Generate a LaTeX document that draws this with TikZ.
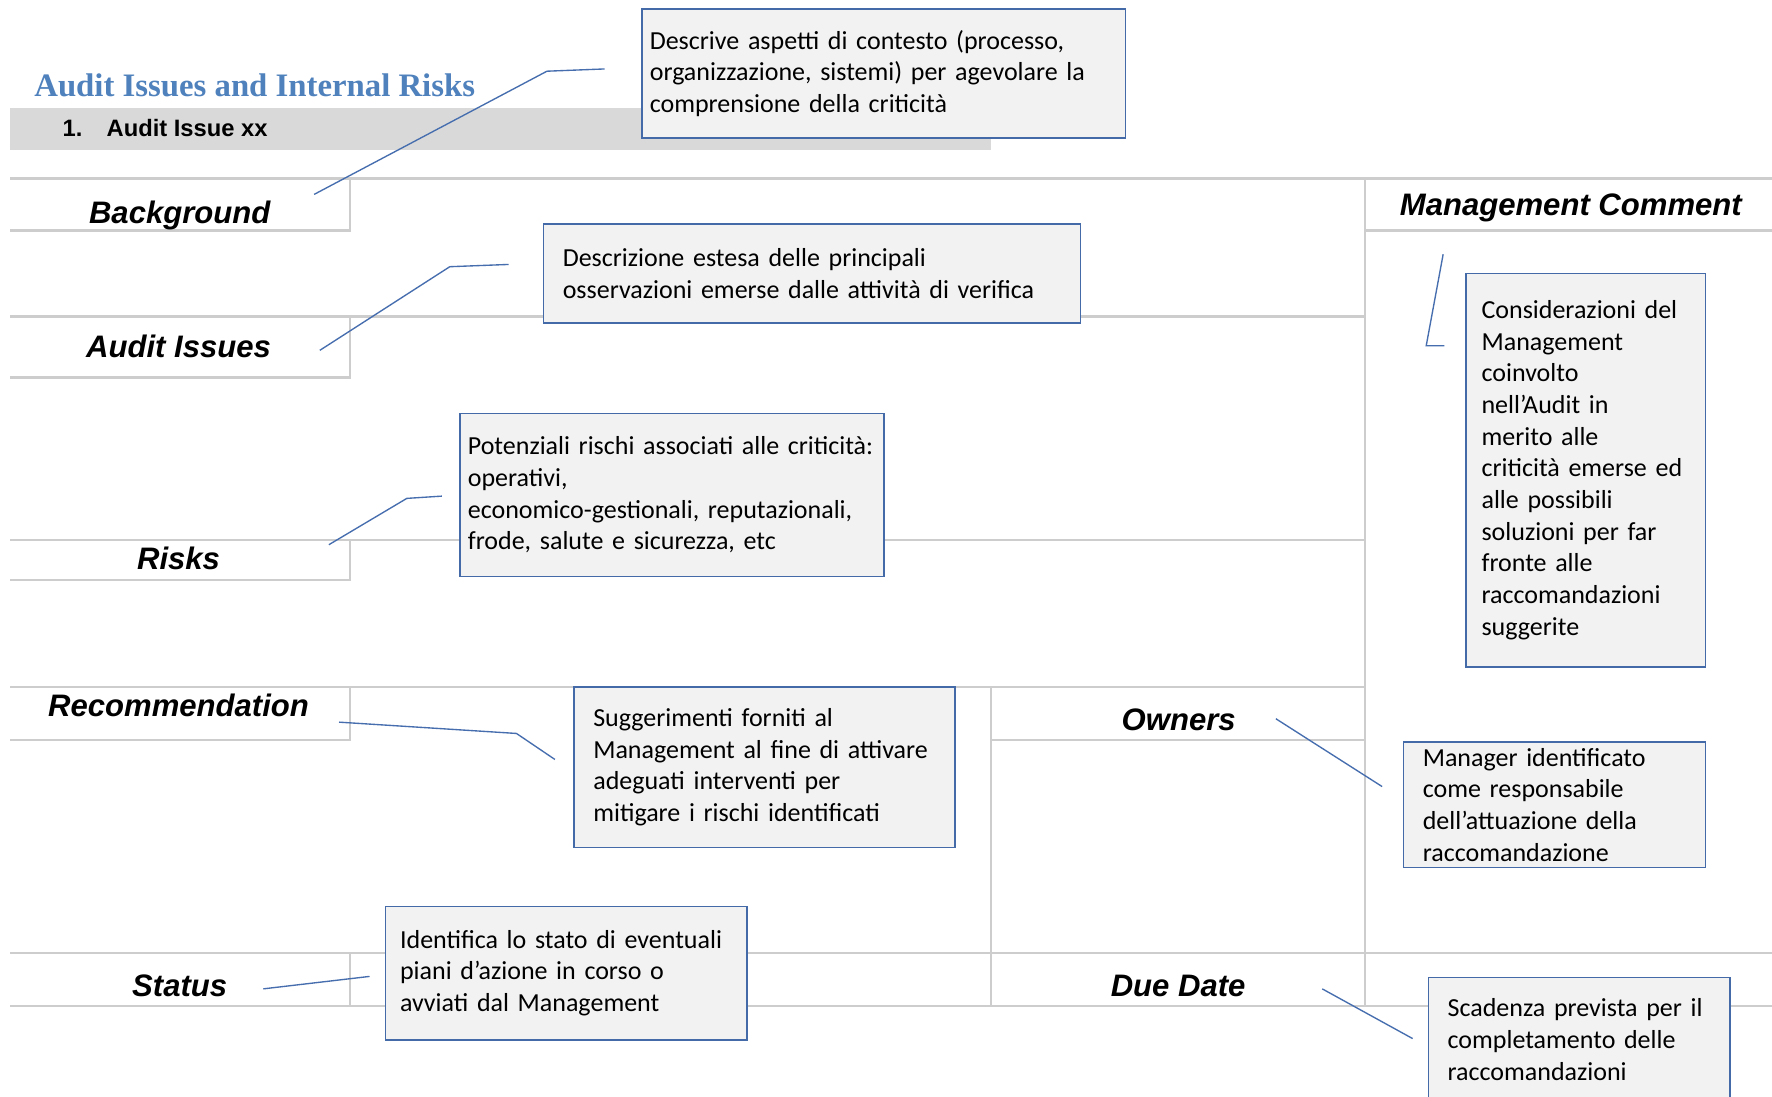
\documentclass[tikz,border=0pt]{standalone}
\usepackage{fontspec}
\setmainfont{Carlito}
\newfontfamily\headfont{Liberation Sans}
\newfontfamily\titlefont{Liberation Serif}
\usetikzlibrary{calc}

\definecolor{titleblue}{RGB}{79,129,189}
\definecolor{noteblue}{RGB}{68,106,168}
\definecolor{leaderblue}{RGB}{70,110,175}
\definecolor{rulegray}{RGB}{205,205,205}
\definecolor{notefill}{RGB}{242,242,242}
\definecolor{bargray}{RGB}{217,217,217}

\tikzset{
  tableline/.style={rulegray, line width=1pt},
  note/.style={draw=noteblue, fill=notefill, line width=0.7pt, align=left,
    inner ysep=0pt, font=\fontsize{11.5}{14}\selectfont},
  head/.style={anchor=base, inner sep=0pt,
    font=\headfont\bfseries\itshape\fontsize{13.75}{16}\selectfont},
  leader/.style={leaderblue, line width=0.6pt}
}

\begin{document}
\begin{tikzpicture}[x=0.5pt, y=-0.5pt]
        % Page
        \fill[white] (0,0) rectangle (1568,970);
        \useasboundingbox (0,0) rectangle (1568,970);

        % Title and issue bar
        \node[anchor=base west, inner sep=0pt, text=titleblue,
            font=\titlefont\bfseries\fontsize{14.5}{17}\selectfont] (title) at (30,85.5) {Audit Issues and Internal Risks};
        \fill[bargray] (9,96) rectangle (877,133);
        \node[anchor=base west, inner sep=0pt, font=\headfont\bfseries\fontsize{10.5}{12}\selectfont] (issuenum) at (55,121) {1.};
        \node[anchor=base west, inner sep=0pt, font=\headfont\bfseries\fontsize{10.5}{12}\selectfont] (issuetitle) at (94,121) {Audit Issue xx};

        % Table rules
        \draw[tableline] (9,158) -- (1568,158);
        \draw[tableline] (1208,158) -- (1208,890);
        \draw[tableline] (1208,204) -- (1568,204);
        \draw[tableline] (9,204) -- (310,204) -- (310,158);
        \draw[tableline] (9,280) -- (1208,280);
        \draw[tableline] (9,334) -- (310,334) -- (310,280);
        \draw[tableline] (9,478) -- (1208,478);
        \draw[tableline] (9,513) -- (310,513) -- (310,478);
        \draw[tableline] (9,608) -- (1208,608);
        \draw[tableline] (9,655) -- (310,655) -- (310,608);
        \draw[tableline] (877,608) -- (877,890);
        \draw[tableline] (877,655) -- (1208,655);
        \draw[tableline] (9,843) -- (1568,843);
        \draw[tableline] (9,890) -- (1568,890);
        \draw[tableline] (310,843) -- (310,890);

        % Column headings
        \node[head] (bghead) at (159,198) {Background};
        \node[head] (issuehead) at (158,316) {Audit Issues};
        \node[head] (riskhead) at (158,504) {Risks};
        \node[head] (rechead) at (158,634) {Recommendation};
        \node[head] (stathead) at (159,881.5) {Status};
        \node[head] (ownhead) at (1043,646) {Owners};
        \node[head] (duehead) at (1042.5,881.5) {Due Date};
        \node[head] (mgmthead) at (1390,191) {Management Comment};

        % Notes
        \node[note, minimum width=214pt, minimum height=57pt, inner xsep=3.5pt, text width=207pt] (bgnote) at (782,65)
            {Descrive aspetti di contesto (processo,\\organizzazione, sistemi) per agevolare la\\comprensione della criticità};
        \node[note, minimum width=237.5pt, minimum height=44pt, inner xsep=8.5pt, text width=220.5pt] (issuenote) at (718.5,242)
            {Descrizione estesa delle principali\\osservazioni emerse dalle attività di verifica};
        \node[note, minimum width=187.5pt, minimum height=72pt, inner xsep=3.5pt, text width=180.5pt] (risknote) at (594.5,438)
            {\mbox{Potenziali rischi associati alle criticità:}\\operativi,\\economico-gestionali, reputazionali,\\frode, salute e sicurezza, etc};
        \node[note, minimum width=168.5pt, minimum height=71pt, inner xsep=8.5pt, text width=151.5pt] (recnote) at (676.5,679)
            {Suggerimenti forniti al\\Management al fine di attivare\\adeguati interventi per\\mitigare i rischi identificati};
        \node[note, minimum width=160pt, minimum height=59pt, inner xsep=6.5pt, text width=147pt] (statnote) at (501,861)
            {Identifica lo stato di eventuali\\piani d’azione in corso o\\avviati dal Management};
        \node[note, minimum width=106pt, minimum height=174pt, inner xsep=7pt, text width=92pt] (mgmtnote) at (1403,416)
            {Considerazioni del\\Management\\coinvolto\\nell’Audit in\\merito alle\\criticità emerse ed\\alle possibili\\soluzioni per far\\fronte alle\\raccomandazioni\\suggerite};
        \node[note, minimum width=133.5pt, minimum height=55.5pt, inner xsep=8.5pt, text width=116.5pt] (ownnote) at (1375.5,712)
            {Manager identificato\\come responsabile\\dell’attuazione della\\raccomandazione};
        \node[note, minimum width=133.5pt, minimum height=55pt, inner xsep=8.5pt, text width=116.5pt] (duenote) at (1397.5,920)
            {Scadenza prevista per il\\completamento delle\\raccomandazioni};

        % Leader lines
        \coordinate (bgfrom) at (278,172);
        \coordinate (bgbend) at (484,63);
        \coordinate (bgto) at (535,61);
        \draw[leader] (bgfrom) -- (bgbend) -- (bgto);
        \coordinate (issuefrom) at (283,310);
        \coordinate (issuebend) at (398,236);
        \coordinate (issueto) at (450,234);
        \draw[leader] (issuefrom) -- (issuebend) -- (issueto);
        \coordinate (riskfrom) at (291,482);
        \coordinate (riskbend) at (360,441);
        \coordinate (riskto) at (391,439);
        \draw[leader] (riskfrom) -- (riskbend) -- (riskto);
        \coordinate (recfrom) at (300,639);
        \coordinate (recbend) at (457,649);
        \coordinate (recto) at (491,672);
        \draw[leader] (recfrom) -- (recbend) -- (recto);
        \coordinate (statfrom) at (233,875);
        \coordinate (statto) at (327,864);
        \draw[leader] (statfrom) -- (statto);
        \coordinate (mgmtfrom) at (1277,225);
        \coordinate (mgmtbend) at (1262,306);
        \coordinate (mgmtto) at (1278,306);
        \draw[leader] (mgmtfrom) -- (mgmtbend) -- (mgmtto);
        \coordinate (ownfrom) at (1129,636);
        \coordinate (ownto) at (1223,696);
        \draw[leader] (ownfrom) -- (ownto);
        \coordinate (duefrom) at (1170,875);
        \coordinate (dueto) at (1250,919);
        \draw[leader] (duefrom) -- (dueto);
\end{tikzpicture}
\end{document}
